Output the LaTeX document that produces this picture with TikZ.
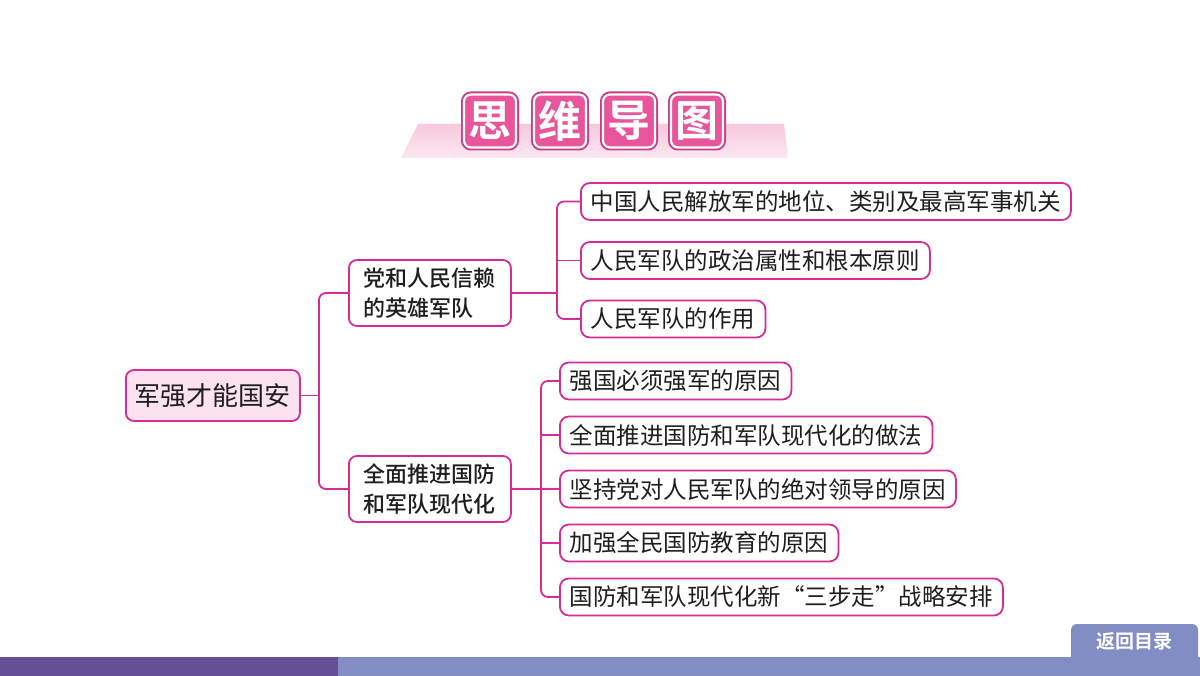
\documentclass[tikz,border=0pt]{standalone}
\usepackage{fontspec}
\newfontfamily\cjk{Noto Sans CJK SC}
\newfontfamily\cjkm{Noto Sans CJK SC Medium}
\newfontfamily\cjkb{Noto Sans CJK SC Bold}
\usetikzlibrary{calc}
\definecolor{mag}{RGB}{214,44,150}
\definecolor{rootfill}{RGB}{251,226,238}
\definecolor{tilepink}{RGB}{232,85,154}
\definecolor{tiledark}{RGB}{200,62,132}
\definecolor{bandtop}{RGB}{247,200,220}
\definecolor{bandbot}{RGB}{252,232,241}
\definecolor{bardark}{RGB}{101,79,149}
\definecolor{barlight}{RGB}{130,141,196}
\definecolor{txt}{RGB}{30,30,30}
\tikzset{
  conn/.style={draw=mag, line width=1.8pt, rounded corners=7pt},
  leafbox/.style={draw=mag, line width=1.8pt, rounded corners=9pt, fill=white, anchor=west,
    minimum height=37pt, inner xsep=10pt, inner ysep=0pt, text=txt,
    font=\cjk\fontsize{23.5}{28}\selectfont},
  branchbox/.style={draw=mag, line width=1.8pt, rounded corners=8pt, fill=white, anchor=west,
    minimum width=162pt, minimum height=66pt, inner xsep=11pt, align=left, text=txt,
    font=\cjkm\fontsize{22}{30}\selectfont},
  rootbox/.style={draw=mag, line width=1.8pt, rounded corners=8pt, fill=rootfill, anchor=west,
    minimum width=174pt, minimum height=51pt, inner xsep=6pt, text=txt,
    font=\cjk\fontsize{26}{30}\selectfont},
  tile/.style={minimum width=52pt, minimum height=53pt, inner sep=0pt, fill=tilepink,
    draw=white, line width=2.2pt, rounded corners=7pt,
    preaction={draw=tiledark, line width=6pt},
    text=white, font=\cjkb\fontsize{43}{46}\selectfont},
  btntext/.style={text=white, font=\cjkb\fontsize{19}{22}\selectfont, inner sep=0pt}
}
\begin{document}
\begin{tikzpicture}[x=1pt, y=-1pt]
\useasboundingbox (0,0) rectangle (1200,676);
\fill[white] (0,0) rectangle (1200,676);

% title band
\shade[top color=bandtop, bottom color=bandbot] (418,124) -- (784,124) -- (788,158) -- (401,158) -- cycle;
\node[tile] (t1) at (490,121) {思};
\node[tile] (t2) at (560,121) {维};
\node[tile] (t3) at (629,121) {导};
\node[tile] (t4) at (697,121) {图};

% root and branches
\node[rootbox] (root) at (125,395.5) {军强才能国安};
\node[branchbox] (b1) at (348,293) {党和人民信赖\\的英雄军队};
\node[branchbox] (b2) at (348,489) {全面推进国防\\和军队现代化};

% group 1 leaves
\node[leafbox] (a1) at (580,201.5) {中国人民解放军的地位、类别及最高军事机关};
\node[leafbox] (a2) at (580,260.5) {人民军队的政治属性和根本原则};
\node[leafbox] (a3) at (580,319) {人民军队的作用};

% group 2 leaves
\node[leafbox] (c1) at (559,381) {强国必须强军的原因};
\node[leafbox] (c2) at (559,435) {全面推进国防和军队现代化的做法};
\node[leafbox] (c3) at (559,489) {坚持党对人民军队的绝对领导的原因};
\node[leafbox] (c4) at (559,543) {加强全民国防教育的原因};
\node[leafbox] (c5) at (559,597) {国防和军队现代化新“三步走”战略安排};

% spine coordinates
\coordinate (s0) at (319,0);
\coordinate (s1) at (557,0);
\coordinate (s2) at (541,0);

% connectors
\draw[conn] (root.east) -- (root.east -| s0);
\draw[conn] (b1.west) -| (s0 |- b2.west) -- (b2.west);

\draw[conn] (b1.east) -- (b1.east -| s1);
\draw[conn] (a1.west) -| (s1 |- a3.west) -- (a3.west);
\draw[conn] (a2.west) -- (a2.west -| s1);

\draw[conn] (b2.east) -- (b2.east -| c3.west);
\draw[conn] (c1.west) -| (s2 |- c5.west) -- (c5.west);
\draw[conn] (c2.west) -- (c2.west -| s2);
\draw[conn] (c4.west) -- (c4.west -| s2);

% bottom bar and button
\fill[bardark] (0,657) rectangle (338,676);
\fill[barlight] (338,657) rectangle (1200,676);
\fill[barlight] (1071,657) [rounded corners=6pt]-- (1071,624) -- (1198,624) [sharp corners]-- (1198,657) -- cycle;
\node[btntext] (ret) at (1134.5,641) {返回目录};
\end{tikzpicture}
\end{document}
